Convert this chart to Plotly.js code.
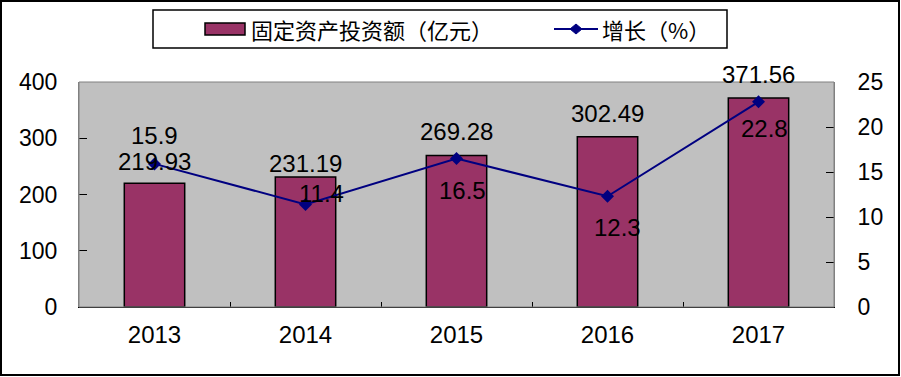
<!DOCTYPE html>
<html><head><meta charset="utf-8">
<script src="https://cdn.plot.ly/plotly-3.0.1.min.js"></script>
<style>body{margin:0;padding:0;background:#fff}#c{width:901px;height:377px}</style>
</head><body><div id="c"></div>
<script>
const years = ['2013','2014','2015','2016','2017'];
const investment = [219.93, 231.19, 269.28, 302.49, 371.56];
const growth = [15.9, 11.4, 16.5, 12.3, 22.8];
const barName = '固定资产投资额（亿元）';
const lineName = '增长（%）';
// label offsets (px) - style only
const barLabelShift = [22, 13, 24, 23, 24];
const lineLabelDX = [0, 16, 6, 10, 6];
const lineLabelDY = [28, 11, -32, -31, -27];

const W = 901, H = 377, L = 79, R = 67, T = 82, B = 70;
const pw = W - L - R, ph = H - T - B;
const num = '"Liberation Sans", Arial, sans-serif';
const cjk = '"Noto Sans CJK SC", sans-serif';
const px = v => (v - L) / pw;          // pixel x -> paper
const py = v => (H - B - v) / ph;      // pixel y -> paper

const annotations = [];
years.forEach((y, i) => {
  annotations.push({x: i, y: investment[i], xref: 'x', yref: 'y', text: investment[i].toFixed(2),
    showarrow: false, yanchor: 'middle', xanchor: 'center', yshift: barLabelShift[i],
    font: {family: num, size: 24, color: '#000'}});
  annotations.push({x: i, y: growth[i], xref: 'x', yref: 'y2', text: String(growth[i]),
    showarrow: false, yanchor: 'middle', xanchor: 'center', xshift: lineLabelDX[i], yshift: lineLabelDY[i],
    font: {family: num, size: 24, color: '#000'}});
});
// manual legend texts
annotations.push({xref: 'paper', yref: 'paper', x: px(249), y: py(29), xanchor: 'left', yanchor: 'middle',
  text: barName, showarrow: false, font: {family: cjk, size: 22, color: '#000'}});
annotations.push({xref: 'paper', yref: 'paper', x: px(600), y: py(29), xanchor: 'left', yanchor: 'middle',
  text: lineName, showarrow: false, font: {family: cjk, size: 22, color: '#000'}});

const data = [
  {type: 'bar', x: years, y: investment, name: barName, width: 0.4,
   marker: {color: '#993366', line: {color: '#000', width: 1.5}}, hoverinfo: 'skip'},
  {type: 'scatter', mode: 'lines+markers', x: years, y: growth, yaxis: 'y2', name: lineName,
   line: {color: '#000080', width: 2}, marker: {symbol: 'diamond', size: 10, color: '#000080'}, hoverinfo: 'skip'}
];

const dx = 6, dy = 5, mx = 576, my = 29;
const layout = {
  width: W, height: H, margin: {l: L, r: R, t: T, b: B, pad: 0},
  paper_bgcolor: '#fff', plot_bgcolor: '#C0C0C0',
  showlegend: false,
  xaxis: {type: 'category', range: [-0.5, 4.5], showgrid: false, zeroline: false, showline: true, linecolor: '#000', linewidth: 1,
    ticks: 'inside', tickson: 'boundaries', ticklen: 5, tickcolor: '#000',
    tickfont: {family: num, size: 24, color: '#000'}, ticklabelstandoff: 6, tickangle: 0, fixedrange: true},
  yaxis: {range: [0, 400], dtick: 100, showgrid: false, zeroline: false, showline: true, linecolor: '#808080',
    ticks: 'inside', ticklen: 8, tickcolor: '#000', tickfont: {family: num, size: 23, color: '#000'},
    ticklabelstandoff: 16},
  yaxis2: {range: [0, 25], dtick: 5, overlaying: 'y', side: 'right', showgrid: false, zeroline: false,
    showline: true, linecolor: '#808080', ticks: 'inside', ticklen: 8, tickcolor: '#000',
    tickfont: {family: num, size: 23, color: '#000'}, ticklabelstandoff: 18},
  annotations: annotations,
  shapes: [
    {type: 'rect', xref: 'paper', yref: 'paper', x0: 0, x1: 1, y0: 0, y1: 1, line: {color: '#808080', width: 1}},
    {type: 'rect', xref: 'paper', yref: 'paper', x0: px(1), x1: px(W - 2), y0: py(H - 2), y1: py(1),
     line: {color: '#000', width: 2}},
    // legend box
    {type: 'rect', xref: 'paper', yref: 'paper', x0: px(153), x1: px(727), y0: py(48), y1: py(10),
     line: {color: '#000', width: 1.5}, fillcolor: '#fff', layer: 'above'},
    {type: 'rect', xref: 'paper', yref: 'paper', x0: px(205), x1: px(245), y0: py(35), y1: py(23),
     line: {color: '#000', width: 1.5}, fillcolor: '#993366', layer: 'above'},
    {type: 'line', xref: 'paper', yref: 'paper', x0: px(554), x1: px(598), y0: py(my), y1: py(my),
     line: {color: '#000080', width: 2}, layer: 'above'},
    {type: 'path', xref: 'paper', yref: 'paper', layer: 'above', fillcolor: '#000080', line: {color: '#000080', width: 1},
     path: `M ${px(mx)} ${py(my - dy)} L ${px(mx + dx)} ${py(my)} L ${px(mx)} ${py(my + dy)} L ${px(mx - dx)} ${py(my)} Z`}
  ]
};
Plotly.newPlot('c', data, layout, {staticPlot: true, displayModeBar: false});
</script></body></html>
